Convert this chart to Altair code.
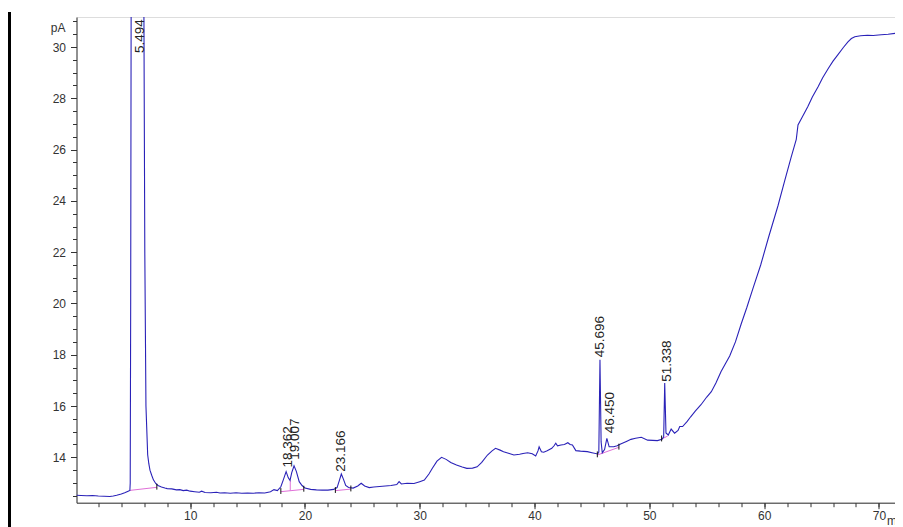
import altair as alt
import pandas as pd

# ---- chromatogram trace (time in min, signal in pA) ----
t_vals = [0.1, 0.5, 1.0, 1.5, 2.0, 2.5, 3.0, 3.3, 3.6, 4.0, 4.3, 4.6, 4.75,
          4.78, 4.82, 4.86, 5.0, 5.494, 5.9, 5.97, 6.05, 6.15, 6.3, 6.4, 6.5, 6.65, 6.8,
          7.0, 7.2, 7.5, 7.8, 8.0, 8.4, 8.8, 9.1, 9.4, 9.7, 10.0, 10.4, 10.8, 11.0,
          11.3, 11.8, 12.3, 12.6, 13.0, 13.5, 14.0, 14.5, 15.0, 15.5, 16.0, 16.5,
          17.0, 17.3, 17.6, 17.9, 18.1, 18.36, 18.55, 18.7, 18.85, 19.05, 19.25,
          19.5, 19.75, 20.0, 20.5, 21.0, 21.5, 22.0, 22.5, 22.8, 23.0, 23.17, 23.35,
          23.55, 23.8, 24.2, 24.6, 24.9, 25.2, 25.6, 26.0, 26.5, 27.0, 27.5, 28.0,
          28.2, 28.4, 28.9, 29.5, 30.0, 30.4, 30.8, 31.1, 31.5, 31.9, 32.3, 32.7,
          33.2, 33.7, 34.1, 34.6, 35.0, 35.4, 35.9, 36.3, 36.6, 37.0, 37.3, 37.8,
          38.2, 38.7, 39.0, 39.4, 39.8, 40.1, 40.3, 40.4, 40.6, 40.8, 41.1, 41.5,
          41.7, 41.85, 42.0, 42.3, 42.6, 42.9, 43.1, 43.3, 43.6, 44.0, 44.6, 45.0,
          45.5, 45.6, 45.7, 45.8, 45.9, 46.1, 46.3, 46.5, 46.9, 47.2, 47.5, 48.0,
          48.4, 48.8, 49.3, 49.85, 50.3, 50.7, 51.1, 51.25, 51.34, 51.45, 51.65,
          51.9, 52.2, 52.5, 52.65, 52.9, 53.3, 53.6, 54.0, 54.5, 55.0, 55.4, 55.8,
          56.25, 57.0, 57.5, 58.0, 58.5, 59.0, 59.7, 60.4, 61.2, 61.8, 62.35, 62.8,
          62.95, 63.3, 63.8, 64.2, 64.7, 65.1, 65.6, 66.0, 66.4, 66.9, 67.3, 67.6,
          67.9, 68.4, 69.0, 69.5, 70.2, 70.8, 71.4, 72.2]
pa_vals = [12.52, 12.51, 12.50, 12.51, 12.49, 12.48, 12.47, 12.49, 12.52, 12.57, 12.62, 12.68, 12.71,
           13.0, 20.0, 31.6, 45.0, 80.0, 45.0, 31.6, 22.0, 16.0, 14.1, 13.75, 13.5, 13.3, 13.12,
           12.98, 12.9, 12.84, 12.80, 12.78, 12.77, 12.73, 12.74, 12.70, 12.72, 12.68, 12.66, 12.64, 12.68,
           12.63, 12.62, 12.64, 12.61, 12.62, 12.60, 12.62, 12.60, 12.61, 12.60, 12.62, 12.61,
           12.66, 12.74, 12.70, 12.85, 13.1, 13.44, 13.2, 13.1, 13.4, 13.67, 13.45,
           13.05, 12.9, 12.8, 12.75, 12.73, 12.72, 12.72, 12.75, 12.82, 13.1, 13.35, 13.15,
           12.9, 12.82, 12.8, 12.88, 12.99, 12.88, 12.82, 12.84, 12.86, 12.88, 12.9, 12.94,
           13.05, 12.96, 12.99, 12.98, 13.05, 13.11, 13.35, 13.57, 13.85, 14.0, 13.92, 13.8,
           13.7, 13.62, 13.57, 13.58, 13.63, 13.8, 14.09, 14.25, 14.35, 14.28, 14.22, 14.15,
           14.09, 14.12, 14.15, 14.18, 14.14, 14.05, 14.25, 14.41, 14.22, 14.2, 14.26, 14.35,
           14.45, 14.55, 14.45, 14.48, 14.5, 14.57, 14.5, 14.48, 14.26, 14.24, 14.22, 14.18,
           14.13, 14.2, 17.8, 14.6, 14.18, 14.3, 14.74, 14.41, 14.41, 14.45, 14.52, 14.62,
           14.7, 14.74, 14.78, 14.67, 14.66, 14.65, 14.7, 14.8, 16.9, 14.95, 14.87,
           15.1, 14.94, 15.05, 15.2, 15.2, 15.4, 15.58, 15.8, 16.05, 16.35, 16.56, 16.9,
           17.35, 17.95, 18.5, 19.2, 19.85, 20.55, 21.5, 22.6, 23.8, 24.8, 25.7, 26.4,
           26.96, 27.25, 27.67, 28.05, 28.45, 28.8, 29.17, 29.45, 29.68, 29.98, 30.2, 30.33,
           30.4, 30.44, 30.46, 30.45, 30.48, 30.5, 30.53, 30.5]

# ---- integration baselines (pink) ----
base_id = [1, 1, 2, 2, 3, 3, 4, 4, 5, 5, 6, 6, 7, 7]
base_t = [4.75, 7.1, 17.9, 19.9, 18.72, 18.72, 22.65, 24.0, 45.47, 47.35, 45.95, 45.95, 51.07, 51.6]
base_pa = [12.71, 12.83, 12.66, 12.75, 13.1, 12.7, 12.70, 12.76, 14.09, 14.39, 14.2, 14.15, 14.71, 14.83]

# ---- integration event markers (small black ticks) ----
mark_t = [7.1, 17.9, 19.9, 22.65, 24.0, 45.47, 47.35, 51.07]
mark_pa = [12.83, 12.66, 12.75, 12.70, 12.76, 14.09, 14.39, 14.71]

# ---- peak labels ----
peak_text = ["5.494", "18.362", "19.007", "23.166", "45.696", "46.450", "51.338"]
peak_x = [5.6, 18.52, 19.1, 23.17, 45.69, 46.56, 51.5]
peak_y = [29.77, 13.6, 13.9, 13.44, 17.9, 14.94, 16.95]

x_major = [10, 20, 30, 40, 50, 60, 70]
x_minor = [v for v in range(2, 72, 2)]
y_major = [14, 16, 18, 20, 22, 24, 26, 28, 30]
y_minor = [12.5 + 0.5 * i for i in range(38)]

XDOM = [0.1, 71.4]
YDOM = [12.23, 31.17]

trace = pd.DataFrame({"t": t_vals, "pa": pa_vals})
bases = pd.DataFrame({"id": base_id, "t": base_t, "pa": base_pa})
marks = pd.DataFrame({"t": mark_t, "pa": mark_pa,
                      "lo": [p - 0.09 for p in mark_pa], "hi": [p + 0.14 for p in mark_pa]})
labels = pd.DataFrame({"text": peak_text, "t": peak_x, "pa": peak_y})

xs = alt.Scale(domain=XDOM, nice=False, zero=False)
ys = alt.Scale(domain=YDOM, nice=False, zero=False)

FONT = "Liberation Sans"
AX = "#333333"

x_axis = alt.Axis(values=x_major, tickSize=6, labelPadding=2, grid=False,
                  domainColor=AX, tickColor=AX, labelColor="#333333",
                  labelFont=FONT, labelFontSize=12, orient="bottom",
                  title="min", titleFont=FONT, titleFontSize=12, titleFontWeight="normal",
                  titleColor="#333333", titleAngle=0, titleAlign="left",
                  titleBaseline="alphabetic", titleX=810, titleY=21.5)
y_axis = alt.Axis(values=y_major, tickSize=6, labelPadding=5, grid=False,
                  domainColor=AX, tickColor=AX, labelColor="#333333",
                  labelFont=FONT, labelFontSize=12, orient="left",
                  title="pA", titleFont=FONT, titleFontSize=12, titleFontWeight="normal",
                  titleColor="#333333", titleAngle=0, titleAlign="right",
                  titleBaseline="middle", titleX=-11.5, titleY=10.5)

base_lines = alt.Chart(bases).mark_line(color="#e070d8", strokeWidth=1).encode(
    x=alt.X("t:Q", scale=xs, axis=None), y=alt.Y("pa:Q", scale=ys, axis=None), detail="id:N")

line = alt.Chart(trace).mark_line(color="#2a22b8", strokeWidth=1.1, clip=True).encode(
    x=alt.X("t:Q", scale=xs, axis=x_axis),
    y=alt.Y("pa:Q", scale=ys, axis=y_axis),
    order="t:Q",
)

minor_ticks = alt.Chart(trace).mark_point(opacity=0).encode(
    x=alt.X("t:Q", scale=xs, axis=alt.Axis(values=x_minor, tickSize=4, labels=False,
                                           domain=False, grid=False, title=None,
                                           tickColor=AX, orient="bottom")),
    y=alt.Y("pa:Q", scale=ys, axis=alt.Axis(values=y_minor, tickSize=4, labels=False,
                                            domain=False, grid=False, title=None,
                                            tickColor=AX, orient="left")),
)

event_marks = alt.Chart(marks).mark_rule(color="#111111", strokeWidth=1).encode(
    x=alt.X("t:Q", scale=xs, axis=None), y=alt.Y("lo:Q", scale=ys, axis=None), y2="hi:Q")

peak_labels = alt.Chart(labels).mark_text(
    angle=270, align="left", baseline="middle", font=FONT, fontSize=13.5, color="#222222"
).encode(x=alt.X("t:Q", scale=xs, axis=None), y=alt.Y("pa:Q", scale=ys, axis=None), text="text:N")

border = alt.Chart(trace).mark_rule(color="#000000", strokeWidth=1.3).encode(
    x=alt.value(-67), y=alt.value(-5), y2=alt.value(520))

chart = alt.layer(base_lines, line, event_marks, peak_labels, minor_ticks, border).resolve_axis(
    x="independent", y="independent"
).properties(
    width=818.5, height=485.7,
    autosize=alt.AutoSizeParams(type="none"),
    padding={"left": 68.5, "top": 9, "right": 0, "bottom": 24.3},
).configure_view(stroke=None).configure(background="white")

chart.save("out.html", embed_options={"renderer": "svg", "actions": False})
